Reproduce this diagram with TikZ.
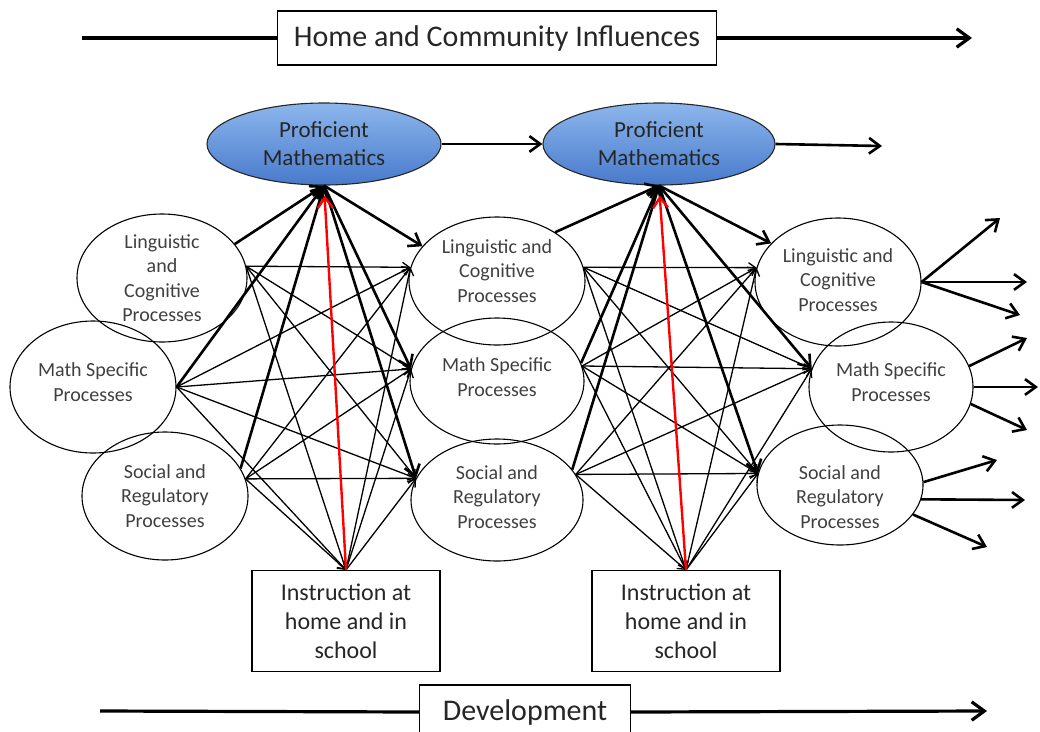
\documentclass[tikz,border=0pt]{standalone}
\usepackage{fontspec}
\setmainfont{Carlito}
\usetikzlibrary{shapes.geometric,arrows.meta}
\definecolor{profTop}{RGB}{140,182,236}
\definecolor{profBot}{RGB}{72,122,204}
\tikzset{
	proc/.style={draw, ellipse, line width=1.1pt, inner sep=0pt},
	plab/.style={align=center, inner sep=0pt, text=black!75, font=\fontsize{20}{24.5}\selectfont},
	prof/.style={draw=black!85, ellipse, line width=1.1pt, top color=profTop, bottom color=profBot, inner sep=0pt, align=center, text=black!85, font=\fontsize{23}{28}\selectfont},
	instr/.style={draw, line width=1.1pt, minimum width=188pt, minimum height=101pt, align=center, text=black!85, font=\fontsize{24}{29}\selectfont},
	banner/.style={draw, fill=white, line width=1.1pt, minimum height=54pt, text=black!85, font=\fontsize{30}{34}\selectfont},
	infl/.style={line width=2.6pt, ->},
	link/.style={line width=1.3pt, ->},
	feed/.style={line width=2.4pt, red, ->, shorten >=10pt}
}
\begin{document}
\begin{tikzpicture}[x=1pt, y=-1pt, >={Straight Barb[length=3pt 3,width=4pt 4.5]}]
		\useasboundingbox (0,0) rectangle (1040,731);
		\clip (0,0) rectangle (1040,731);
		\node[banner, inner xsep=16pt] (home) at (497,38) {Home and Community Influences};
		\coordinate (homeL) at (82,38);
		\coordinate (homeR) at (972,38);
		\draw[line width=3.2pt] (homeL) -- (home.west);
		\draw[line width=3.2pt, ->] (home.east) -- (homeR);
		\node[prof, minimum width=234pt, minimum height=82pt] (P1) at (324,144) {Proficient\\Mathematics};
		\node[prof, minimum width=232pt, minimum height=82pt] (P2) at (659,144) {Proficient\\Mathematics};
		\coordinate (pOut) at (882,146);
		\draw[infl] (P1.east) -- (P2.west);
		\draw[infl] (P2.east) -- (pOut);
		\node[proc, minimum width=170pt, minimum height=128pt, label={[plab]center:Linguistic\\and\\Cognitive\\Processes}] (L1) at (162,278) {};
		\node[proc, minimum width=166pt, minimum height=132pt, label={[plab, yshift=5pt]center:Math Specific\\Processes}] (M1) at (93,387) {};
		\node[proc, minimum width=166pt, minimum height=128pt, label={[plab]center:Social and\\Regulatory\\Processes}] (S1) at (165,496) {};
		\node[proc, minimum width=176pt, minimum height=128pt, label={[plab, yshift=10pt]center:Linguistic and\\Cognitive\\Processes}] (L2) at (497,281) {};
		\node[proc, minimum width=174pt, minimum height=126pt, label={[plab, yshift=4pt]center:Math Specific\\Processes}] (M2) at (497,381) {};
		\node[proc, minimum width=172pt, minimum height=122pt, label={[plab, yshift=3pt]center:Social and\\Regulatory\\Processes}] (S2) at (497,500) {};
		\node[proc, minimum width=166pt, minimum height=128pt, label={[plab, yshift=2pt]center:Linguistic and\\Cognitive\\Processes}] (L3) at (838,282) {};
		\node[proc, minimum width=164pt, minimum height=130pt, label={[plab, yshift=5pt]center:Math Specific\\Processes}] (M3) at (891,387) {};
		\node[proc, minimum width=166pt, minimum height=120pt, label={[plab, yshift=-12pt]center:Social and\\Regulatory\\Processes}] (S3) at (840,485) {};
		\node[instr] (I1) at (346,621) {Instruction at\\home and in\\school};
		\node[instr] (I2) at (686,621) {Instruction at\\home and in\\school};
		\node[banner, inner xsep=23pt] (dev) at (525,712) {Development};
		\coordinate (devL) at (100,711);
		\coordinate (devR) at (987,711);
		\draw[line width=3.2pt] (devL) -- (dev.west);
		\draw[line width=3.2pt, ->] (dev.east) -- (devR);
		\draw[link] (L1.8) -- (L2.171);
		\draw[link] (L1.8) -- (M2.172);
		\draw[link] (L1.8) -- (S2.165);
		\draw[link] (L1.8) -- (I1.north);
		\draw[link] (M1.east) -- (L2.171);
		\draw[link] (M1.east) -- (M2.172);
		\draw[link] (M1.east) -- (S2.165);
		\draw[link] (M1.east) -- (I1.north);
		\draw[link] (S1.12) -- (L2.171);
		\draw[link] (S1.12) -- (M2.172);
		\draw[link] (S1.12) -- (S2.165);
		\draw[link] (S1.12) -- (I1.north);
		\draw[link] (I1.north) -- (L2.171);
		\draw[link] (I1.north) -- (M2.172);
		\draw[link] (I1.north) -- (S2.165);
		\draw[infl] (L1.25) -- (P1.south);
		\draw[infl] (M1.east) -- (P1.south);
		\draw[infl] (S1.20) -- (P1.south);
		\draw[infl] (P1.south) -- (L2.155);
		\draw[infl] (P1.south) -- (M2.172);
		\draw[infl] (P1.south) -- (S2.165);
		\draw[feed] (I1.north) -- (P1.south);
		\draw[link] (L2.9) -- (L3.170);
		\draw[link] (L2.9) -- (M3.167);
		\draw[link] (L2.9) -- (S3.172);
		\draw[link] (L2.9) -- (I2.north);
		\draw[link] (M2.10) -- (L3.170);
		\draw[link] (M2.10) -- (M3.167);
		\draw[link] (M2.10) -- (S3.172);
		\draw[link] (M2.10) -- (I2.north);
		\draw[link] (S2.18) -- (L3.170);
		\draw[link] (S2.18) -- (M3.167);
		\draw[link] (S2.18) -- (S3.172);
		\draw[link] (S2.18) -- (I2.north);
		\draw[link] (I2.north) -- (L3.170);
		\draw[link] (I2.north) -- (M3.167);
		\draw[link] (I2.north) -- (S3.172);
		\draw[infl] (L2.40) -- (P2.south);
		\draw[infl] (M2.12) -- (P2.south);
		\draw[infl] (S2.22) -- (P2.south);
		\draw[infl] (P2.south) -- (L3.150);
		\draw[infl] (P2.south) -- (M3.167);
		\draw[infl] (P2.south) -- (S3.172);
		\draw[feed] (I2.north) -- (P2.south);
		\coordinate (oL1) at (1000,218);
		\coordinate (oL2) at (1027,282);
		\coordinate (oL3) at (1020,315);
		\coordinate (oM1) at (1027,338);
		\coordinate (oM2) at (1038,387);
		\coordinate (oM3) at (1027,430);
		\coordinate (oS1) at (997,460);
		\coordinate (oS2) at (1025,500);
		\coordinate (oS3) at (987,547);
		\draw[infl] (L3.east) -- (oL1);
		\draw[infl] (L3.east) -- (oL2);
		\draw[infl] (L3.east) -- (oL3);
		\draw[infl] (M3.15) -- (oM1);
		\draw[infl] (M3.east) -- (oM2);
		\draw[infl] (M3.-12) -- (oM3);
		\draw[infl] (S3.2) -- (oS1);
		\draw[infl] (S3.-10) -- (oS2);
		\draw[infl] (S3.-22) -- (oS3);
	\end{tikzpicture}
\end{document}
